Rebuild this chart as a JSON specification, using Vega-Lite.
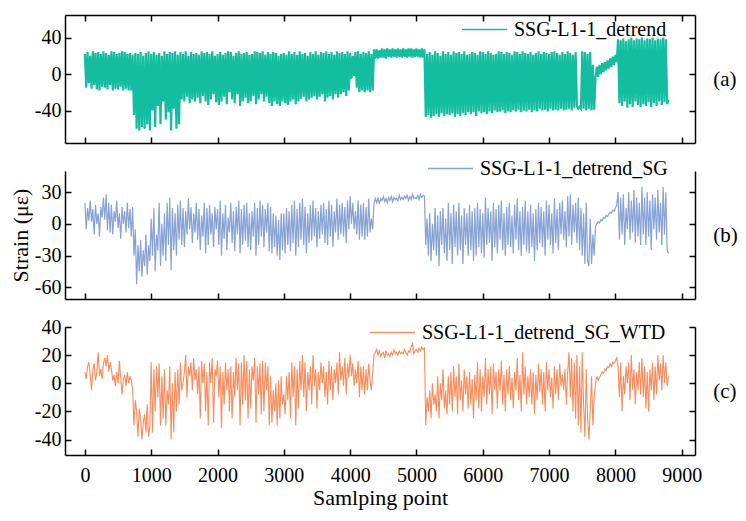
{
  "$schema": "https://vega.github.io/schema/vega-lite/v6.json",
  "padding": {"left": 9, "top": 6, "right": 5, "bottom": 5},
  "bounds": "flush",
  "spacing": 28,
  "config": {
    "font": "Liberation Serif",
    "view": {"stroke": null},
    "axis": {
      "grid": false, "domainColor": "black", "domainWidth": 1.5,
      "tickColor": "black", "tickWidth": 1.5, "tickSize": -6,
      "labelFont": "Liberation Serif", "labelFontSize": 20, "labelColor": "black",
      "titleFont": "Liberation Serif", "titleFontSize": 22, "titleFontWeight": "normal", "titleColor": "black"
    },
    "legend": {
      "labelFont": "Liberation Serif", "labelFontSize": 20, "labelColor": "black", "labelLimit": 0,
      "symbolType": "stroke", "symbolSize": 2025, "symbolStrokeWidth": 1.5, "labelOffset": 6, "orient": "none"
    }
  },
  "resolve": {"scale": {"color": "independent", "y": "independent"}, "legend": {"color": "independent"}},
  "data": {"values": [
    {"x":0,"a":22,"b":20,"c":8},{"x":20,"a":-15,"b":-5,"c":3},{"x":40,"a":24,"b":15,"c":12},{"x":60,"a":-10,"b":3,"c":15},{"x":80,"a":20,"b":22,"c":6},
    {"x":100,"a":-16,"b":2,"c":-5},{"x":120,"a":25,"b":14,"c":10},{"x":140,"a":-12,"b":-10,"c":14},{"x":160,"a":23,"b":18,"c":2},{"x":180,"a":-17,"b":0,"c":8},
    {"x":200,"a":24,"b":10,"c":22},{"x":220,"a":-18,"b":-12,"c":5},{"x":240,"a":22,"b":16,"c":10},{"x":260,"a":-14,"b":6,"c":3},{"x":280,"a":25,"b":25,"c":14},
    {"x":300,"a":-15,"b":4,"c":18},{"x":320,"a":23,"b":28,"c":12},{"x":340,"a":-17,"b":-6,"c":20},{"x":360,"a":21,"b":20,"c":8},{"x":380,"a":-12,"b":-8,"c":15},
    {"x":400,"a":25,"b":18,"c":10},{"x":420,"a":-18,"b":-10,"c":2},{"x":440,"a":24,"b":12,"c":6},{"x":460,"a":-16,"b":2,"c":-2},{"x":480,"a":22,"b":22,"c":8},
    {"x":500,"a":-17,"b":-4,"c":0},{"x":520,"a":23,"b":10,"c":16},{"x":540,"a":-14,"b":-14,"c":4},{"x":560,"a":25,"b":16,"c":-8},{"x":580,"a":-18,"b":0,"c":3},
    {"x":600,"a":24,"b":12,"c":6},{"x":620,"a":-16,"b":-8,"c":-2},{"x":640,"a":22,"b":20,"c":8},{"x":660,"a":-18,"b":-4,"c":0},{"x":680,"a":23,"b":14,"c":5},
    {"x":700,"a":-18,"b":-12,"c":2},{"x":720,"a":21,"b":16,"c":-5},{"x":740,"a":-45,"b":-30,"c":-30},{"x":760,"a":23,"b":-5,"c":-12},{"x":780,"a":-60,"b":-57,"c":-20},
    {"x":800,"a":22,"b":-20,"c":-38},{"x":820,"a":-62,"b":-45,"c":-18},{"x":840,"a":24,"b":-15,"c":-25},{"x":860,"a":-58,"b":-50,"c":-40},{"x":880,"a":20,"b":-25,"c":-28},
    {"x":900,"a":-60,"b":-40,"c":-22},{"x":920,"a":23,"b":-10,"c":-35},{"x":940,"a":-55,"b":-48,"c":-15},{"x":960,"a":25,"b":-20,"c":-38},{"x":980,"a":-62,"b":-35,"c":-30},
    {"x":1000,"a":22,"b":5,"c":15},{"x":1020,"a":-40,"b":-30,"c":-35},{"x":1040,"a":24,"b":15,"c":10},{"x":1060,"a":-58,"b":-45,"c":-20},{"x":1080,"a":21,"b":-10,"c":12},
    {"x":1100,"a":-35,"b":-25,"c":-10},{"x":1120,"a":23,"b":20,"c":14},{"x":1140,"a":-55,"b":-40,"c":-30},{"x":1160,"a":20,"b":0,"c":5},{"x":1180,"a":-30,"b":-30,"c":-25},
    {"x":1200,"a":25,"b":10,"c":10},{"x":1220,"a":-50,"b":-35,"c":-30},{"x":1240,"a":22,"b":20,"c":-5},{"x":1260,"a":-42,"b":-20,"c":-15},{"x":1280,"a":24,"b":25,"c":12},
    {"x":1300,"a":-62,"b":-44,"c":-40},{"x":1320,"a":23,"b":15,"c":0},{"x":1340,"a":-38,"b":-25,"c":-35},{"x":1360,"a":25,"b":10,"c":8},{"x":1380,"a":-60,"b":-30,"c":-20},
    {"x":1400,"a":21,"b":18,"c":10},{"x":1420,"a":-55,"b":-15,"c":-15},{"x":1440,"a":24,"b":22,"c":15},{"x":1460,"a":-28,"b":-20,"c":-5},{"x":1480,"a":22,"b":15,"c":0},
    {"x":1500,"a":-30,"b":-22,"c":8},{"x":1520,"a":25,"b":12,"c":20},{"x":1540,"a":-25,"b":-10,"c":-10},{"x":1560,"a":20,"b":24,"c":12},{"x":1580,"a":-32,"b":-5,"c":5},
    {"x":1600,"a":24,"b":16,"c":15},{"x":1620,"a":-28,"b":-18,"c":-5},{"x":1640,"a":22,"b":10,"c":18},{"x":1660,"a":-30,"b":-8,"c":2},{"x":1680,"a":23,"b":20,"c":10},
    {"x":1700,"a":-26,"b":-15,"c":-8},{"x":1720,"a":21,"b":14,"c":12},{"x":1740,"a":-32,"b":-25,"c":-25},{"x":1760,"a":25,"b":8,"c":16},{"x":1780,"a":-24,"b":-12,"c":0},
    {"x":1800,"a":23,"b":20,"c":14},{"x":1820,"a":-30,"b":-28,"c":-20},{"x":1840,"a":24,"b":15,"c":8},{"x":1860,"a":-34,"b":-20,"c":-30},{"x":1880,"a":22,"b":18,"c":15},
    {"x":1900,"a":-28,"b":-10,"c":0},{"x":1920,"a":25,"b":10,"c":18},{"x":1940,"a":-22,"b":-22,"c":-28},{"x":1960,"a":20,"b":16,"c":10},{"x":1980,"a":-31,"b":-5,"c":5},
    {"x":2000,"a":22,"b":14,"c":16},{"x":2020,"a":-34,"b":-20,"c":-10},{"x":2040,"a":24,"b":22,"c":12},{"x":2060,"a":-30,"b":-30,"c":-32},{"x":2080,"a":21,"b":10,"c":8},
    {"x":2100,"a":-25,"b":-14,"c":-15},{"x":2120,"a":23,"b":18,"c":15},{"x":2140,"a":-33,"b":-25,"c":-5},{"x":2160,"a":25,"b":6,"c":10},{"x":2180,"a":-20,"b":-8,"c":-20},
    {"x":2200,"a":24,"b":20,"c":12},{"x":2220,"a":-28,"b":-18,"c":-25},{"x":2240,"a":20,"b":12,"c":8},{"x":2260,"a":-32,"b":-26,"c":-10},{"x":2280,"a":23,"b":16,"c":18},
    {"x":2300,"a":-22,"b":-10,"c":-5},{"x":2320,"a":25,"b":22,"c":14},{"x":2340,"a":-35,"b":-28,"c":-30},{"x":2360,"a":22,"b":14,"c":15},{"x":2380,"a":-30,"b":-20,"c":-15},
    {"x":2400,"a":23,"b":18,"c":20},{"x":2420,"a":-26,"b":-16,"c":-12},{"x":2440,"a":24,"b":20,"c":16},{"x":2460,"a":-32,"b":-22,"c":-25},{"x":2480,"a":21,"b":10,"c":10},
    {"x":2500,"a":-30,"b":-25,"c":-18},{"x":2520,"a":22,"b":12,"c":12},{"x":2540,"a":-24,"b":-12,"c":2},{"x":2560,"a":25,"b":20,"c":18},{"x":2580,"a":-33,"b":-30,"c":-28},
    {"x":2600,"a":24,"b":15,"c":12},{"x":2620,"a":-28,"b":-20,"c":-8},{"x":2640,"a":23,"b":22,"c":14},{"x":2660,"a":-22,"b":-12,"c":-22},{"x":2680,"a":25,"b":18,"c":16},
    {"x":2700,"a":-30,"b":-22,"c":-20},{"x":2720,"a":21,"b":14,"c":15},{"x":2740,"a":-25,"b":-8,"c":-5},{"x":2760,"a":24,"b":20,"c":12},{"x":2780,"a":-32,"b":-26,"c":-30},
    {"x":2800,"a":22,"b":16,"c":5},{"x":2820,"a":-35,"b":-28,"c":-28},{"x":2840,"a":24,"b":10,"c":-5},{"x":2860,"a":-30,"b":-22,"c":-20},{"x":2880,"a":23,"b":8,"c":0},
    {"x":2900,"a":-33,"b":-30,"c":-30},{"x":2920,"a":20,"b":4,"c":2},{"x":2940,"a":-35,"b":-34,"c":-25},{"x":2960,"a":22,"b":10,"c":5},{"x":2980,"a":-30,"b":-25,"c":-15},
    {"x":3000,"a":23,"b":10,"c":-8},{"x":3020,"a":-32,"b":-28,"c":-22},{"x":3040,"a":21,"b":15,"c":5},{"x":3060,"a":-34,"b":-20,"c":-12},{"x":3080,"a":25,"b":12,"c":8},
    {"x":3100,"a":-30,"b":-26,"c":-25},{"x":3120,"a":22,"b":18,"c":15},{"x":3140,"a":-28,"b":-18,"c":-10},{"x":3160,"a":24,"b":22,"c":12},{"x":3180,"a":-33,"b":-30,"c":-30},
    {"x":3200,"a":21,"b":14,"c":10},{"x":3220,"a":-30,"b":-22,"c":-18},{"x":3240,"a":25,"b":20,"c":16},{"x":3260,"a":-27,"b":-15,"c":-5},{"x":3280,"a":22,"b":24,"c":20},
    {"x":3300,"a":-25,"b":-20,"c":-10},{"x":3320,"a":23,"b":16,"c":15},{"x":3340,"a":-30,"b":-28,"c":-20},{"x":3360,"a":20,"b":10,"c":8},{"x":3380,"a":-28,"b":-18,"c":-5},
    {"x":3400,"a":24,"b":18,"c":12},{"x":3420,"a":-26,"b":-16,"c":-15},{"x":3440,"a":22,"b":22,"c":20},{"x":3460,"a":-24,"b":-12,"c":-2},{"x":3480,"a":25,"b":15,"c":10},
    {"x":3500,"a":-28,"b":-22,"c":-18},{"x":3520,"a":21,"b":12,"c":8},{"x":3540,"a":-25,"b":-14,"c":-5},{"x":3560,"a":24,"b":18,"c":15},{"x":3580,"a":-22,"b":-10,"c":0},
    {"x":3600,"a":23,"b":20,"c":12},{"x":3620,"a":-30,"b":-18,"c":-10},{"x":3640,"a":25,"b":14,"c":8},{"x":3660,"a":-26,"b":-20,"c":-15},{"x":3680,"a":22,"b":22,"c":16},
    {"x":3700,"a":-24,"b":-12,"c":-5},{"x":3720,"a":24,"b":18,"c":12},{"x":3740,"a":-28,"b":-22,"c":-12},{"x":3760,"a":21,"b":12,"c":10},{"x":3780,"a":-22,"b":-8,"c":0},
    {"x":3800,"a":25,"b":24,"c":15},{"x":3820,"a":-26,"b":-15,"c":-8},{"x":3840,"a":23,"b":18,"c":22},{"x":3860,"a":-22,"b":-10,"c":2},{"x":3880,"a":24,"b":20,"c":12},
    {"x":3900,"a":-20,"b":-12,"c":-2},{"x":3920,"a":22,"b":16,"c":18},{"x":3940,"a":-24,"b":-18,"c":-8},{"x":3960,"a":25,"b":22,"c":14},{"x":3980,"a":-18,"b":-5,"c":4},
    {"x":4000,"a":23,"b":26,"c":20},{"x":4020,"a":-5,"b":0,"c":5},{"x":4040,"a":20,"b":20,"c":14},{"x":4060,"a":-2,"b":-5,"c":-2},{"x":4080,"a":24,"b":12,"c":10},
    {"x":4100,"a":-15,"b":-10,"c":0},{"x":4120,"a":25,"b":22,"c":16},{"x":4140,"a":-20,"b":-15,"c":-10},{"x":4160,"a":22,"b":18,"c":12},{"x":4180,"a":-18,"b":-12,"c":-5},
    {"x":4200,"a":24,"b":20,"c":12},{"x":4220,"a":-20,"b":-15,"c":-8},{"x":4240,"a":23,"b":16,"c":10},{"x":4260,"a":-18,"b":-12,"c":-5},{"x":4280,"a":25,"b":24,"c":14},
    {"x":4300,"a":-20,"b":-8,"c":2},{"x":4320,"a":22,"b":5,"c":-5},{"x":4340,"a":-18,"b":-5,"c":8},{"x":4360,"a":27,"b":20,"c":20},{"x":4380,"a":17,"b":24,"c":22},
    {"x":4400,"a":27,"b":20,"c":24},{"x":4420,"a":17,"b":25,"c":20},{"x":4440,"a":26,"b":19,"c":23},{"x":4460,"a":18,"b":24,"c":19},{"x":4480,"a":28,"b":22,"c":21},
    {"x":4500,"a":18,"b":26,"c":22},{"x":4520,"a":27,"b":21,"c":18},{"x":4540,"a":17,"b":24,"c":23},{"x":4560,"a":28,"b":20,"c":20},{"x":4580,"a":19,"b":25,"c":21},
    {"x":4600,"a":27,"b":22,"c":19},{"x":4620,"a":18,"b":26,"c":22},{"x":4640,"a":28,"b":21,"c":20},{"x":4660,"a":19,"b":25,"c":24},{"x":4680,"a":27,"b":23,"c":21},
    {"x":4700,"a":18,"b":24,"c":22},{"x":4720,"a":28,"b":22,"c":20},{"x":4740,"a":19,"b":27,"c":23},{"x":4760,"a":27,"b":23,"c":21},{"x":4780,"a":18,"b":25,"c":22},
    {"x":4800,"a":28,"b":23,"c":21},{"x":4820,"a":19,"b":26,"c":24},{"x":4840,"a":27,"b":24,"c":22},{"x":4860,"a":18,"b":27,"c":20},{"x":4880,"a":28,"b":22,"c":23},
    {"x":4900,"a":19,"b":26,"c":22},{"x":4920,"a":28,"b":23,"c":26},{"x":4940,"a":18,"b":28,"c":28},{"x":4960,"a":27,"b":24,"c":21},{"x":4980,"a":19,"b":25,"c":23},
    {"x":5000,"a":28,"b":24,"c":24},{"x":5020,"a":19,"b":27,"c":22},{"x":5040,"a":27,"b":23,"c":25},{"x":5060,"a":18,"b":28,"c":23},{"x":5080,"a":28,"b":25,"c":26},
    {"x":5100,"a":18,"b":27,"c":24},{"x":5120,"a":27,"b":26,"c":25},{"x":5140,"a":-47,"b":-20,"c":-30},{"x":5160,"a":22,"b":5,"c":-10},{"x":5180,"a":-45,"b":-30,"c":-20},
    {"x":5200,"a":24,"b":10,"c":-5},{"x":5220,"a":-48,"b":-35,"c":-25},{"x":5240,"a":21,"b":0,"c":0},{"x":5260,"a":-46,"b":-25,"c":-15},{"x":5280,"a":25,"b":15,"c":-8},
    {"x":5300,"a":-44,"b":-30,"c":-20},{"x":5320,"a":23,"b":8,"c":5},{"x":5340,"a":-47,"b":-40,"c":-25},{"x":5360,"a":20,"b":12,"c":0},{"x":5380,"a":-43,"b":-20,"c":-12},
    {"x":5400,"a":25,"b":15,"c":10},{"x":5420,"a":-46,"b":-28,"c":-18},{"x":5440,"a":22,"b":5,"c":-5},{"x":5460,"a":-44,"b":-35,"c":-22},{"x":5480,"a":24,"b":20,"c":5},
    {"x":5500,"a":-45,"b":-25,"c":-15},{"x":5520,"a":21,"b":10,"c":8},{"x":5540,"a":-43,"b":-38,"c":-20},{"x":5560,"a":25,"b":18,"c":12},{"x":5580,"a":-47,"b":-22,"c":-10},
    {"x":5600,"a":23,"b":12,"c":5},{"x":5620,"a":-44,"b":-30,"c":-22},{"x":5640,"a":24,"b":20,"c":14},{"x":5660,"a":-46,"b":-25,"c":-12},{"x":5680,"a":22,"b":8,"c":2},
    {"x":5700,"a":-43,"b":-38,"c":-20},{"x":5720,"a":25,"b":15,"c":10},{"x":5740,"a":-45,"b":-20,"c":-8},{"x":5760,"a":21,"b":10,"c":5},{"x":5780,"a":-42,"b":-30,"c":-18},
    {"x":5800,"a":22,"b":18,"c":8},{"x":5820,"a":-44,"b":-25,"c":-15},{"x":5840,"a":24,"b":12,"c":3},{"x":5860,"a":-42,"b":-35,"c":-25},{"x":5880,"a":23,"b":15,"c":6},
    {"x":5900,"a":-46,"b":-30,"c":-12},{"x":5920,"a":21,"b":20,"c":15},{"x":5940,"a":-41,"b":-22,"c":-18},{"x":5960,"a":25,"b":14,"c":10},{"x":5980,"a":-43,"b":-28,"c":-20},
    {"x":6000,"a":24,"b":10,"c":5},{"x":6020,"a":-42,"b":-32,"c":-10},{"x":6040,"a":22,"b":25,"c":18},{"x":6060,"a":-44,"b":-20,"c":-15},{"x":6080,"a":25,"b":15,"c":10},
    {"x":6100,"a":-41,"b":-18,"c":-8},{"x":6120,"a":23,"b":12,"c":12},{"x":6140,"a":-43,"b":-35,"c":-22},{"x":6160,"a":21,"b":20,"c":14},{"x":6180,"a":-40,"b":-22,"c":-5},
    {"x":6200,"a":22,"b":14,"c":8},{"x":6220,"a":-42,"b":-28,"c":-18},{"x":6240,"a":25,"b":18,"c":10},{"x":6260,"a":-41,"b":-15,"c":-5},{"x":6280,"a":24,"b":22,"c":16},
    {"x":6300,"a":-40,"b":-25,"c":-15},{"x":6320,"a":22,"b":10,"c":6},{"x":6340,"a":-43,"b":-30,"c":-20},{"x":6360,"a":24,"b":16,"c":10},{"x":6380,"a":-41,"b":-20,"c":-8},
    {"x":6400,"a":23,"b":20,"c":12},{"x":6420,"a":-42,"b":-22,"c":-12},{"x":6440,"a":21,"b":8,"c":4},{"x":6460,"a":-40,"b":-28,"c":-18},{"x":6480,"a":25,"b":18,"c":8},
    {"x":6500,"a":-41,"b":-15,"c":-5},{"x":6520,"a":24,"b":24,"c":18},{"x":6540,"a":-39,"b":-25,"c":-12},{"x":6560,"a":22,"b":12,"c":6},{"x":6580,"a":-42,"b":-30,"c":-20},
    {"x":6600,"a":25,"b":16,"c":22},{"x":6620,"a":-40,"b":-20,"c":-8},{"x":6640,"a":23,"b":22,"c":12},{"x":6660,"a":-41,"b":-26,"c":-15},{"x":6680,"a":22,"b":12,"c":5},
    {"x":6700,"a":-39,"b":-28,"c":-10},{"x":6720,"a":24,"b":18,"c":10},{"x":6740,"a":-42,"b":-22,"c":-15},{"x":6760,"a":21,"b":10,"c":8},{"x":6780,"a":-40,"b":-35,"c":-22},
    {"x":6800,"a":23,"b":14,"c":6},{"x":6820,"a":-41,"b":-25,"c":-12},{"x":6840,"a":25,"b":20,"c":14},{"x":6860,"a":-38,"b":-18,"c":-6},{"x":6880,"a":22,"b":16,"c":10},
    {"x":6900,"a":-40,"b":-22,"c":-15},{"x":6920,"a":24,"b":12,"c":8},{"x":6940,"a":-39,"b":-30,"c":-20},{"x":6960,"a":23,"b":22,"c":15},{"x":6980,"a":-41,"b":-15,"c":-5},
    {"x":7000,"a":22,"b":18,"c":10},{"x":7020,"a":-38,"b":-20,"c":-10},{"x":7040,"a":24,"b":10,"c":4},{"x":7060,"a":-40,"b":-28,"c":-18},{"x":7080,"a":25,"b":24,"c":12},
    {"x":7100,"a":-39,"b":-18,"c":-8},{"x":7120,"a":23,"b":14,"c":10},{"x":7140,"a":-40,"b":-25,"c":-12},{"x":7160,"a":21,"b":20,"c":14},{"x":7180,"a":-38,"b":-10,"c":-2},
    {"x":7200,"a":24,"b":22,"c":6},{"x":7220,"a":-40,"b":-15,"c":-5},{"x":7240,"a":22,"b":12,"c":10},{"x":7260,"a":-39,"b":-22,"c":-15},{"x":7280,"a":25,"b":26,"c":8},
    {"x":7300,"a":-38,"b":-12,"c":22},{"x":7320,"a":23,"b":28,"c":-10},{"x":7340,"a":-40,"b":-20,"c":18},{"x":7360,"a":21,"b":18,"c":-20},{"x":7380,"a":-37,"b":-8,"c":15},
    {"x":7400,"a":24,"b":20,"c":-25},{"x":7420,"a":-35,"b":-18,"c":20},{"x":7440,"a":-38,"b":25,"c":-30},{"x":7460,"a":-36,"b":-25,"c":12},{"x":7480,"a":-38,"b":15,"c":-35},
    {"x":7500,"a":25,"b":-30,"c":22},{"x":7520,"a":-38,"b":10,"c":-15},{"x":7540,"a":24,"b":-38,"c":-38},{"x":7560,"a":-40,"b":20,"c":10},{"x":7580,"a":22,"b":-35,"c":-25},
    {"x":7600,"a":-38,"b":-40,"c":-40},{"x":7620,"a":24,"b":5,"c":-20},{"x":7640,"a":-40,"b":-38,"c":5},{"x":7660,"a":10,"b":-10,"c":-30},{"x":7680,"a":-39,"b":-30,"c":-10},
    {"x":7700,"a":-4,"b":-2,"c":0},{"x":7720,"a":8,"b":0,"c":5},{"x":7740,"a":-3,"b":2,"c":2},{"x":7760,"a":10,"b":1,"c":4},{"x":7780,"a":0,"b":4,"c":6},
    {"x":7800,"a":12,"b":3,"c":8},{"x":7820,"a":2,"b":6,"c":7},{"x":7840,"a":13,"b":5,"c":10},{"x":7860,"a":4,"b":8,"c":9},{"x":7880,"a":15,"b":7,"c":12},
    {"x":7900,"a":6,"b":9,"c":11},{"x":7920,"a":17,"b":11,"c":14},{"x":7940,"a":8,"b":10,"c":12},{"x":7960,"a":19,"b":13,"c":15},{"x":7980,"a":10,"b":12,"c":14},
    {"x":8000,"a":21,"b":15,"c":16},{"x":8020,"a":13,"b":18,"c":18},{"x":8040,"a":38,"b":30,"c":12},{"x":8060,"a":-32,"b":-15,"c":-10},{"x":8080,"a":37,"b":25,"c":15},
    {"x":8100,"a":-35,"b":-10,"c":-20},{"x":8120,"a":39,"b":28,"c":5},{"x":8140,"a":-30,"b":-20,"c":-8},{"x":8160,"a":36,"b":15,"c":12},{"x":8180,"a":-37,"b":-5,"c":0},
    {"x":8200,"a":38,"b":30,"c":15},{"x":8220,"a":-33,"b":-15,"c":-12},{"x":8240,"a":40,"b":22,"c":20},{"x":8260,"a":-36,"b":-8,"c":-5},{"x":8280,"a":37,"b":32,"c":10},
    {"x":8300,"a":-30,"b":-18,"c":-15},{"x":8320,"a":39,"b":25,"c":8},{"x":8340,"a":-34,"b":-12,"c":-5},{"x":8360,"a":38,"b":20,"c":15},{"x":8380,"a":-36,"b":-20,"c":-8},
    {"x":8400,"a":40,"b":35,"c":18},{"x":8420,"a":-33,"b":-10,"c":-10},{"x":8440,"a":37,"b":25,"c":12},{"x":8460,"a":-35,"b":-20,"c":-18},{"x":8480,"a":39,"b":30,"c":8},
    {"x":8500,"a":-31,"b":-12,"c":-20},{"x":8520,"a":38,"b":22,"c":10},{"x":8540,"a":-36,"b":-25,"c":-5},{"x":8560,"a":40,"b":28,"c":15},{"x":8580,"a":-32,"b":-5,"c":-12},
    {"x":8600,"a":37,"b":25,"c":12},{"x":8620,"a":-35,"b":-15,"c":-8},{"x":8640,"a":39,"b":32,"c":20},{"x":8660,"a":-30,"b":-8,"c":2},{"x":8680,"a":38,"b":20,"c":14},
    {"x":8700,"a":-34,"b":-20,"c":-5},{"x":8720,"a":40,"b":35,"c":20},{"x":8740,"a":-31,"b":-10,"c":0},{"x":8760,"a":38,"b":30,"c":15},{"x":8780,"a":-33,"b":-25,"c":-2},
    {"x":8800,"a":-28,"b":-28,"c":5}
  ]},
  "vconcat": [
    {
      "width": 630, "height": 128,
      "resolve": {"axis": {"x": "independent", "y": "independent"}},
      "layer": [
        {
          "mark": {"type": "line", "strokeWidth": 2.2},
          "encoding": {
            "x": {"field": "x", "type": "quantitative", "scale": {"domain": [-300, 9200], "nice": false, "zero": false},
                  "axis": {"values": [0,1000,2000,3000,4000,5000,6000,7000,8000,9000], "labels": false, "title": null}},
            "y": {"field": "a", "type": "quantitative", "scale": {"domain": [-75.6, 64.7], "nice": false, "zero": false},
                  "axis": {"values": [-40, 0, 40], "title": null, "labelPadding": 10, "labelExpr": "datum.value + ''"}},
            "color": {"datum": "SSG-L1-1_detrend", "scale": {"range": ["#13BEA0"]}, "legend": {"title": null, "legendX": 396, "legendY": -9}}
          }
        },
        {
          "mark": {"type": "line", "strokeOpacity": 0},
          "encoding": {
            "x": {"field": "x", "type": "quantitative",
                  "axis": {"orient": "top", "values": [0,1000,2000,3000,4000,5000,6000,7000,8000,9000], "labels": false, "title": null}},
            "y": {"field": "a", "type": "quantitative",
                  "axis": {"orient": "right", "values": [-40, 0, 40], "labels": false, "title": "(a)", "titleAngle": 0, "titleAlign": "left", "titleBaseline": "middle", "titlePadding": 17, "titleFontSize": 21}}
          }
        }
      ]
    },
    {
      "width": 630, "height": 128,
      "resolve": {"axis": {"x": "independent", "y": "independent"}},
      "layer": [
        {
          "mark": {"type": "line", "strokeWidth": 1.2},
          "encoding": {
            "x": {"field": "x", "type": "quantitative", "scale": {"domain": [-300, 9200], "nice": false, "zero": false},
                  "axis": {"values": [0,1000,2000,3000,4000,5000,6000,7000,8000,9000], "labels": false, "title": null}},
            "y": {"field": "b", "type": "quantitative", "scale": {"domain": [-71, 50], "nice": false, "zero": false},
                  "axis": {"values": [-60, -30, 0, 30], "title": "Strain (με)", "labelPadding": 10, "titlePadding": 2, "labelExpr": "datum.value + ''"}},
            "color": {"datum": "SSG-L1-1_detrend_SG", "scale": {"range": ["#87A2D4"]}, "legend": {"title": null, "legendX": 362, "legendY": -26}}
          }
        },
        {
          "mark": {"type": "line", "strokeOpacity": 0},
          "encoding": {
            "x": {"field": "x", "type": "quantitative", "axis": null},
            "y": {"field": "b", "type": "quantitative",
                  "axis": {"orient": "right", "values": [-60, -30, 0, 30], "labels": false, "title": "(b)", "titleAngle": 0, "titleAlign": "left", "titleBaseline": "middle", "titlePadding": 17, "titleFontSize": 21}}
          }
        }
      ]
    },
    {
      "width": 630, "height": 128,
      "resolve": {"axis": {"x": "independent", "y": "independent"}},
      "layer": [
        {
          "mark": {"type": "line", "strokeWidth": 1.1},
          "encoding": {
            "x": {"field": "x", "type": "quantitative", "scale": {"domain": [-300, 9200], "nice": false, "zero": false},
                  "axis": {"values": [0,1000,2000,3000,4000,5000,6000,7000,8000,9000], "title": "Samlping point", "labelPadding": 16, "titlePadding": 2, "labelExpr": "datum.value + ''"}},
            "y": {"field": "c", "type": "quantitative", "scale": {"domain": [-51, 40], "nice": false, "zero": false},
                  "axis": {"values": [-40, -20, 0, 20, 40], "title": null, "labelPadding": 10, "labelExpr": "datum.value + ''"}},
            "color": {"datum": "SSG-L1-1_detrend_SG_WTD", "scale": {"range": ["#FA8C5C"]}, "legend": {"title": null, "legendX": 304, "legendY": -18}}
          }
        },
        {
          "mark": {"type": "line", "strokeOpacity": 0},
          "encoding": {
            "x": {"field": "x", "type": "quantitative", "axis": null},
            "y": {"field": "c", "type": "quantitative",
                  "axis": {"orient": "right", "values": [-40, -20, 0, 20, 40], "labels": false, "title": "(c)", "titleAngle": 0, "titleAlign": "left", "titleBaseline": "middle", "titlePadding": 17, "titleFontSize": 21}}
          }
        }
      ]
    }
  ]
}
